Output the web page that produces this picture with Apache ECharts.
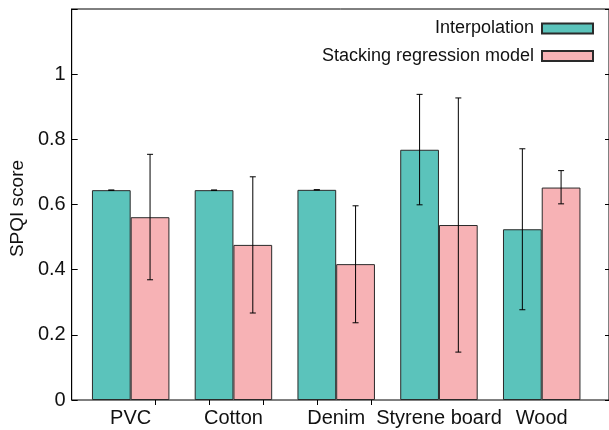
<!DOCTYPE html>
<html><head><meta charset="utf-8">
<script src="https://cdn.jsdelivr.net/npm/echarts@6/dist/echarts.min.js"></script>
<style>html,body{margin:0;padding:0;background:#fff}#c{width:609px;height:430px}</style>
</head><body><div id="c"></div>
<script>
const categories = ['PVC', 'Cotton', 'Denim', 'Styrene board', 'Wood'];
const interpValues = [0.644, 0.644, 0.645, 0.768, 0.524];
const interpLow = [0.644, 0.644, 0.645, 0.599, 0.277];
const interpHigh = [0.644, 0.644, 0.645, 0.938, 0.771];
const stackValues = [0.561, 0.476, 0.417, 0.537, 0.652];
const stackLow = [0.369, 0.267, 0.237, 0.147, 0.602];
const stackHigh = [0.754, 0.685, 0.596, 0.927, 0.704];
const yTickLabels = ['0', '0.2', '0.4', '0.6', '0.8', '1', ''];

const FONT = 'Liberation Sans, Arial, sans-serif';
const TEAL = '#5bc3bb', PINK = '#f7b2b5', EDGE = '#2a2a2a';
const BARW = 0.377;

function errSeries(low, high, side) {
  return {
    type: 'custom', xAxisIndex: 1, yAxisIndex: 2, z: 5, silent: true,
    data: categories.map((c, i) => [i, low[i], high[i]]),
    renderItem(params, api) {
      const band = api.size([1, 0])[0];
      const off = side * band * BARW / 2;
      const lo = api.coord([api.value(0), api.value(1)]);
      const hi = api.coord([api.value(0), api.value(2)]);
      const x = lo[0] + off, cap = 3;
      const st = { stroke: '#000', lineWidth: 1 };
      return { type: 'group', children: [
        { type: 'line', shape: { x1: x, y1: lo[1], x2: x, y2: hi[1] }, style: st },
        { type: 'line', shape: { x1: x - cap, y1: lo[1], x2: x + cap, y2: lo[1] }, style: st },
        { type: 'line', shape: { x1: x - cap, y1: hi[1], x2: x + cap, y2: hi[1] }, style: st }
      ]};
    }
  };
}

const chart = echarts.init(document.getElementById('c'), null, { renderer: 'canvas' });
chart.setOption({
  animation: false,
  textStyle: { fontFamily: FONT },
  grid: [
    { left: 70, right: 0, top: 9, bottom: 30, show: true, borderColor: '#000', borderWidth: 1, backgroundColor: 'transparent' },
    { left: 79.3, right: 15.9, top: 9, bottom: 30 },
    { left: 155.7, right: 237.3, top: 9, bottom: 30 }
  ],
  legend: {
    data: ['Interpolation', 'Stacking regression model'],
    orient: 'vertical', align: 'right', right: 10, top: 14.5,
    icon: 'rect',
    itemWidth: 51, itemHeight: 10, itemGap: 9.5,
    textStyle: { fontFamily: FONT, fontSize: 18, color: '#111', padding: [0, 3, 0, 0] },
    selectedMode: false
  },
  xAxis: [
    { gridIndex: 0, type: 'value', position: 'bottom', min: 0, max: 1, show: false },
    { gridIndex: 1, type: 'category', data: categories, position: 'bottom',
      axisLine: { show: false }, axisTick: { show: false },
      axisLabel: { fontFamily: FONT, fontSize: 20, color: '#111', margin: 8, interval: 0 } },
    { gridIndex: 2, type: 'value', position: 'top', min: 0, max: 4, interval: 1,
      axisLine: { show: false },
      axisTick: { show: true, inside: true, length: 5, lineStyle: { color: '#000' } },
      axisLabel: { show: false }, splitLine: { show: false } }
  ],
  yAxis: [
    { gridIndex: 0, type: 'value', min: 0, max: 1.2, interval: 0.2, position: 'left',
      name: 'SPQI score', nameLocation: 'middle', nameGap: 44,
      nameTextStyle: { fontFamily: FONT, fontSize: 19, color: '#111', padding: [0, 8, 0, 0] },
      axisLine: { show: true, lineStyle: { color: '#000', width: 1 } },
      axisTick: { show: true, inside: true, length: 6, lineStyle: { color: '#000' } },
      axisLabel: { fontFamily: FONT, fontSize: 20, color: '#111', margin: 6,
        formatter: (v, i) => yTickLabels[i] },
      splitLine: { show: false } },
    { gridIndex: 0, type: 'value', min: 0, max: 1.2, interval: 0.2, position: 'right',
      axisLine: { show: false },
      axisTick: { show: true, inside: true, length: 4, lineStyle: { color: '#000' } },
      axisLabel: { show: false }, splitLine: { show: false } },
    { gridIndex: 1, type: 'value', min: 0, max: 1.2, interval: 0.2, show: false, splitLine: { show: false } },
    { gridIndex: 2, type: 'value', min: 0, max: 1.2, show: false }
  ],
  series: [
    { name: 'Interpolation', type: 'bar', xAxisIndex: 1, yAxisIndex: 2, data: interpValues,
      barWidth: (BARW * 100) + '%', barGap: '0%',
      itemStyle: { color: TEAL, borderColor: EDGE, borderWidth: 1 } },
    { name: 'Stacking regression model', type: 'bar', xAxisIndex: 1, yAxisIndex: 2, data: stackValues,
      barWidth: (BARW * 100) + '%', barGap: '0%',
      itemStyle: { color: PINK, borderColor: EDGE, borderWidth: 1 } },
    errSeries(interpLow, interpHigh, -1),
    errSeries(stackLow, stackHigh, 1)
  ]
});
</script></body></html>
